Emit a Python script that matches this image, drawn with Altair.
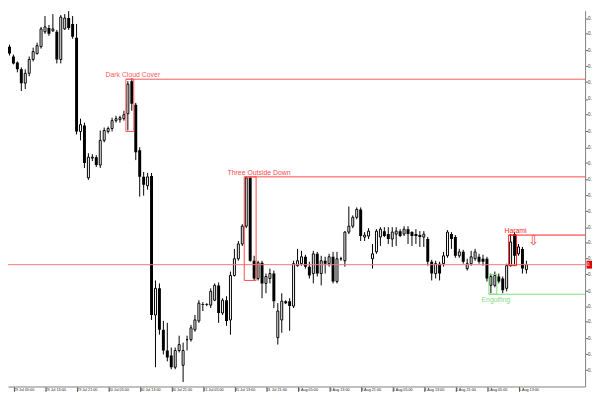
import numpy as np
import pandas as pd
import altair as alt

# H1 candles, prices in 1/10000
opens = [7466, 7464, 7455, 7445, 7439, 7432, 7418, 7428, 7442, 7448,
         7455, 7470, 7474, 7471, 7470, 7442, 7473, 7484, 7478, 7464,
         7369, 7375, 7322, 7342, 7343, 7335, 7360, 7369, 7372, 7380,
         7381, 7382, 7387, 7420, 7396, 7350, 7323, 7314, 7324, 7183,
         7210, 7168, 7147, 7142, 7130, 7147, 7132, 7158, 7158, 7168,
         7177, 7194, 7194, 7193, 7198, 7213, 7185, 7198, 7178, 7223,
         7240, 7255, 7273, 7322, 7238, 7220, 7236, 7215, 7220, 7225,
         7160, 7178, 7197, 7197, 7192, 7233, 7235, 7242, 7232, 7225,
         7245, 7225, 7238, 7235, 7242, 7217, 7240, 7238, 7267, 7273,
         7282, 7290, 7262, 7263, 7240, 7247, 7262, 7268, 7265, 7260,
         7265, 7268, 7265, 7270, 7267, 7265, 7264, 7262, 7260, 7237,
         7225, 7235, 7235, 7243, 7265, 7262, 7243, 7247, 7230, 7235,
         7240, 7242, 7240, 7240, 7213, 7213, 7222, 7220, 7210, 7233,
         7265, 7245, 7250, 7229]
highs = [7470, 7471, 7457, 7447, 7440, 7434, 7432, 7445, 7454, 7459,
         7475, 7486, 7477, 7488, 7472, 7487, 7488, 7491, 7486, 7478,
         7382, 7378, 7347, 7346, 7345, 7370, 7373, 7374, 7383, 7385,
         7385, 7390, 7420, 7423, 7398, 7353, 7328, 7327, 7327, 7218,
         7215, 7177, 7175, 7150, 7150, 7162, 7155, 7162, 7173, 7183,
         7198, 7196, 7195, 7210, 7215, 7216, 7200, 7202, 7227, 7250,
         7258, 7275, 7323, 7323, 7243, 7238, 7238, 7225, 7230, 7228,
         7195, 7205, 7198, 7200, 7238, 7250, 7248, 7244, 7237, 7248,
         7247, 7243, 7242, 7245, 7247, 7247, 7242, 7268, 7293, 7284,
         7292, 7292, 7267, 7271, 7255, 7270, 7272, 7272, 7272, 7272,
         7272, 7270, 7273, 7273, 7268, 7270, 7268, 7268, 7262, 7239,
         7238, 7237, 7247, 7269, 7267, 7264, 7250, 7249, 7240, 7248,
         7250, 7245, 7244, 7242, 7225, 7227, 7225, 7222, 7235, 7265,
         7267, 7255, 7252, 7238]
lows = [7462, 7450, 7446, 7437, 7429, 7410, 7412, 7425, 7440, 7447,
        7453, 7468, 7466, 7470, 7438, 7438, 7472, 7472, 7463, 7366,
        7360, 7332, 7320, 7339, 7333, 7332, 7358, 7367, 7369, 7378,
        7378, 7380, 7370, 7390, 7340, 7303, 7304, 7310, 7178, 7130,
        7163, 7143, 7136, 7128, 7128, 7145, 7115, 7147, 7156, 7166,
        7175, 7187, 7192, 7190, 7197, 7175, 7183, 7172, 7163, 7222,
        7238, 7253, 7271, 7237, 7218, 7218, 7200, 7205, 7215, 7190,
        7153, 7165, 7194, 7167, 7190, 7232, 7233, 7230, 7220, 7215,
        7222, 7213, 7225, 7232, 7215, 7215, 7238, 7232, 7265, 7271,
        7280, 7258, 7258, 7260, 7230, 7245, 7253, 7262, 7255, 7252,
        7253, 7262, 7263, 7255, 7253, 7255, 7252, 7252, 7233, 7218,
        7220, 7218, 7232, 7241, 7250, 7241, 7241, 7235, 7228, 7233,
        7238, 7235, 7233, 7217, 7205, 7211, 7215, 7205, 7207, 7232,
        7233, 7243, 7225, 7225]
closes = [7466, 7455, 7448, 7438, 7432, 7418, 7428, 7442, 7450, 7456,
          7473, 7475, 7468, 7473, 7442, 7485, 7484, 7474, 7465, 7369,
          7376, 7337, 7343, 7343, 7335, 7360, 7370, 7372, 7380, 7382,
          7383, 7386, 7417, 7397, 7348, 7323, 7315, 7323, 7183, 7210,
          7168, 7147, 7140, 7130, 7147, 7153, 7147, 7158, 7170, 7178,
          7195, 7193, 7193, 7207, 7213, 7185, 7198, 7177, 7223, 7240,
          7255, 7273, 7322, 7238, 7220, 7236, 7215, 7222, 7225, 7197,
          7187, 7197, 7195, 7192, 7235, 7238, 7242, 7232, 7223, 7245,
          7225, 7238, 7235, 7242, 7217, 7240, 7240, 7267, 7273, 7282,
          7290, 7263, 7264, 7268, 7245, 7268, 7270, 7263, 7260, 7267,
          7268, 7263, 7270, 7265, 7263, 7263, 7262, 7265, 7237, 7225,
          7235, 7225, 7243, 7267, 7260, 7243, 7247, 7237, 7235, 7242,
          7247, 7237, 7237, 7220, 7222, 7223, 7217, 7208, 7233, 7257,
          7243, 7252, 7230, 7234]

x_labels = ["29 Jul 05:00", "29 Jul 13:00", "29 Jul 21:00", "30 Jul 05:00",
            "30 Jul 13:00", "30 Jul 21:00", "31 Jul 05:00", "31 Jul 13:00",
            "31 Jul 21:00", "3 Aug 05:00", "3 Aug 13:00", "3 Aug 21:00",
            "4 Aug 05:00", "4 Aug 13:00", "4 Aug 21:00", "5 Aug 05:00",
            "5 Aug 13:00"]
x_ticks = [3 + 8 * k for k in range(len(x_labels))]
y_ticks = [7484, 7468, 7451, 7435, 7419, 7402, 7386, 7369, 7353, 7337, 7320, 7304,
           7288, 7272, 7256, 7240, 7224, 7207, 7192, 7176, 7159, 7143, 7127]
# only the start of each price label is in view at the right edge
y_label = "0."

# candle patterns found by the indicator
pat_names = ["Dark Cloud Cover", "Three Outside Down", "Engulfing", "Harami"]
pat_first = [32, 62, 124, 129]
pat_last = [33, 64, 125, 130]
pat_top = [7422, 7323, 7224, 7264]
pat_bottom = [7369, 7218, 7204, 7233]
pat_level = [7422, 7323, 7204, 7264]
pat_text_x = [33.25, 65.25, 125.25, 130.25]
pat_above = [True, True, False, True]
pat_color = ["#ff5a5a", "#ff4a4a", "#7fdc7f", "#ff1e1e"]

bars = pd.DataFrame({"i": np.arange(len(opens)),
                     "open": np.array(opens) / 1e4, "high": np.array(highs) / 1e4,
                     "low": np.array(lows) / 1e4, "close": np.array(closes) / 1e4})
bars["b_lo"] = bars[["open", "close"]].min(axis=1)
bars["b_hi"] = bars[["open", "close"]].max(axis=1)
up = bars[bars.close >= bars.open].assign(x1=lambda d: d.i - 0.25, x2=lambda d: d.i + 0.25)
dn = bars[bars.close < bars.open].assign(x1=lambda d: d.i - 0.375, x2=lambda d: d.i + 0.375)

x_end = 147.875
x_sc = alt.Scale(domain=[1.625, x_end], nice=False, zero=False)
y_sc = alt.Scale(domain=[0.71105, 0.74915], nice=False, zero=False)
font = "Liberation Sans"

label_expr = "[" + ",".join("'%s'" % s for s in x_labels) + "][(datum.value - 3) / 8]"
x_ax = alt.Axis(values=x_ticks, labelExpr=label_expr, title=None, grid=False,
                labelAlign="left", labelBaseline="top", labelPadding=-4,
                labelFontSize=3.8, labelFont=font, labelColor="#222",
                labelOverlap=False, labelFlush=False, tickSize=5,
                tickColor="#666", domainColor="#808080")
y_ax = alt.Axis(orient="right", values=[v / 1e4 for v in y_ticks], title=None,
                grid=False, labelExpr="'%s'" % y_label,
                labelFontSize=4.5, labelFont=font, labelColor="#333",
                labelPadding=0, tickSize=2.5, tickColor="#666",
                domainColor="#808080")


def X(field):
    return alt.X(field, type="quantitative", scale=x_sc, axis=x_ax)


def Y(field):
    return alt.Y(field, type="quantitative", scale=y_sc, axis=y_ax)


pats = pd.DataFrame({"name": pat_names, "x1": np.array(pat_first) - 0.5,
                     "x2": np.array(pat_last) + 0.5, "top": np.array(pat_top) / 1e4,
                     "bottom": np.array(pat_bottom) / 1e4, "level": np.array(pat_level) / 1e4,
                     "tx": pat_text_x, "above": pat_above, "color": pat_color,
                     "end": x_end})

wicks = alt.Chart(bars).mark_rule(color="black", strokeWidth=1, clip=True).encode(
    x=X("i"), y=Y("low"), y2="high:Q")

white_bodies = alt.Chart(up).mark_rect(fill="white", stroke="black", strokeWidth=1,
                                       clip=True).encode(
    x=X("x1"), x2="x2:Q", y=Y("b_lo"), y2="b_hi:Q")

black_bodies = alt.Chart(dn).mark_rect(fill="black", clip=True).encode(
    x=X("x1"), x2="x2:Q", y=Y("b_lo"), y2="b_hi:Q")

boxes = alt.Chart(pats).mark_rect(fillOpacity=0, strokeWidth=1).encode(
    x=X("x1"), x2="x2:Q", y=Y("top"), y2="bottom:Q",
    stroke=alt.Color("color:N", scale=None))

levels = alt.Chart(pats).mark_rule(strokeWidth=1).encode(
    x=X("x1"), x2="end:Q", y=Y("level"),
    color=alt.Color("color:N", scale=None))

txt_above = alt.Chart(pats[pats.above]).mark_text(
    font=font, fontSize=7, baseline="bottom", align="center", dy=-1).encode(
    x=X("tx"), y=Y("level"), text="name:N", color=alt.Color("color:N", scale=None))

txt_below = alt.Chart(pats[~pats.above]).mark_text(
    font=font, fontSize=7, baseline="top", align="center", dy=2).encode(
    x=X("tx"), y=Y("level"), text="name:N", color=alt.Color("color:N", scale=None))

# sell arrow after the Harami
arrow_df = pd.DataFrame({"i": [134.75], "p": [0.7258], "t": ["\u21e9"]})
arrow = alt.Chart(arrow_df).mark_text(font="DejaVu Sans", fontSize=13, color="#ff3030",
                                      baseline="middle").encode(
    x=X("i"), y=Y("p"), text="t:N")

# current bid line and its tag on the price scale
last = bars.close.iloc[-1]
bid_df = pd.DataFrame({"x1": [1.625], "x2": [x_end], "p": [last],
                       "t1": [148.25], "t2": [156.0], "lo": [last - 0.0004],
                       "hi": [last + 0.0004], "lab": [y_label]})
bid_line = alt.Chart(bid_df).mark_rule(color="#f07a7a", strokeWidth=1).encode(
    x=X("x1"), x2="x2:Q", y=Y("p"))
bid_tag = alt.Chart(bid_df).mark_rect(color="#e00000", clip=False).encode(
    x=X("t1"), x2="t2:Q", y=Y("lo"), y2="hi:Q")
bid_txt = alt.Chart(bid_df).mark_text(font=font, fontSize=4.5, color="white", align="left",
                                      baseline="middle", dx=0.5).encode(
    x=X("t1"), y=Y("p"), text="lab:N")

chart = (alt.layer(wicks, white_bodies, black_bodies, bid_line, boxes, levels,
                   txt_above, txt_below, arrow, bid_tag, bid_txt)
         .properties(width=585, height=381, autosize=alt.AutoSizeParams(type="none"),
                     padding={"left": 0, "top": 0, "right": 7, "bottom": 11},
                     background="white")
         .configure_view(stroke=None))

chart.save("out.html", embed_options={"renderer": "svg", "actions": False})
